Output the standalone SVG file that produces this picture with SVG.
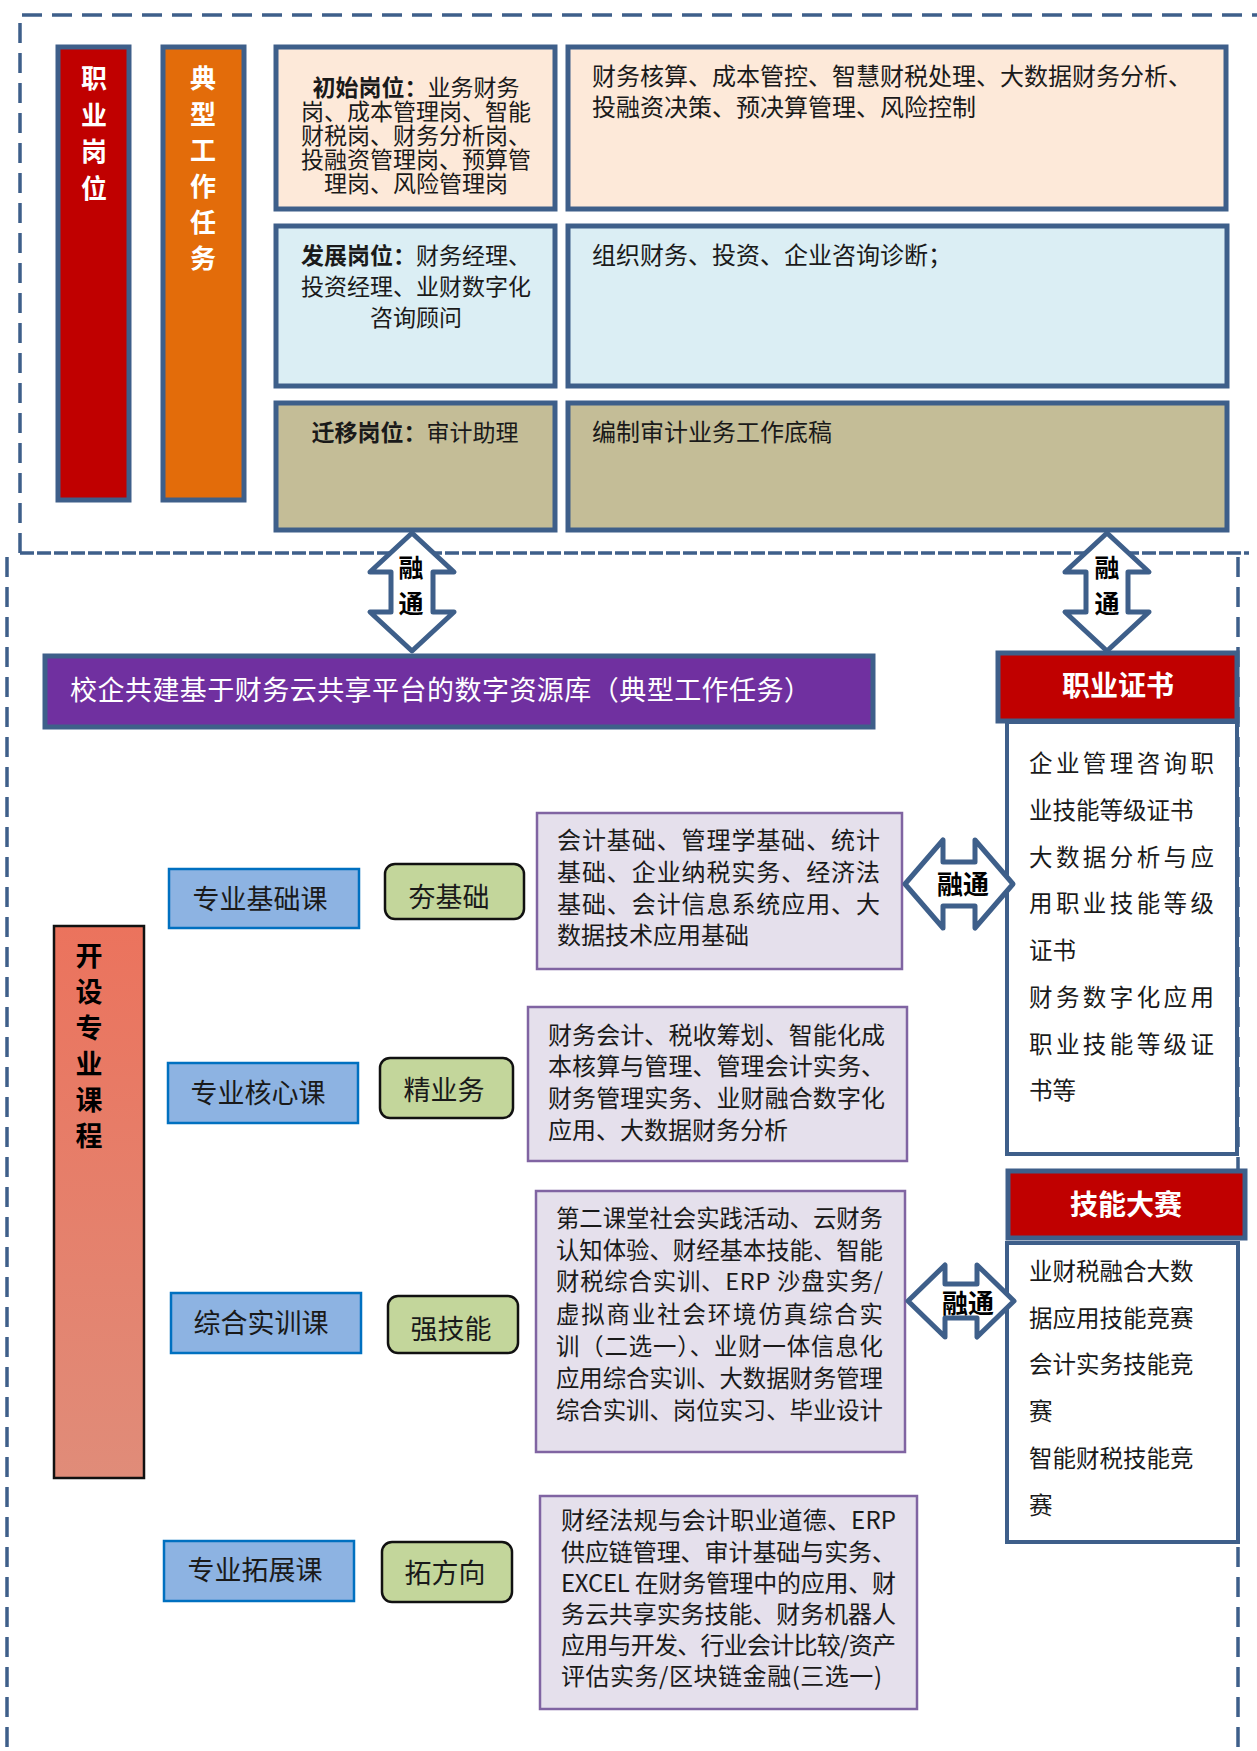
<svg xmlns="http://www.w3.org/2000/svg" width="1257" height="1751" viewBox="0 0 1257 1751">
<style>
text{font-family:"Noto Sans CJK SC","Noto Sans",sans-serif;fill:#1a1a1a}
.frame{fill:none;stroke:#3E5F8A;stroke-width:3.5;stroke-dasharray:20 10}
.thick{stroke:#3E5F8A;stroke-width:5}
.job{stroke:#3E5F8A;stroke-width:5}
.course{fill:#8DB3E2;stroke:#0070C0;stroke-width:2.5}
.goal{fill:#C3D69B;stroke:#111;stroke-width:2.5}
.lav{fill:#E5E0EC;stroke:#8064A2;stroke-width:2.5}
.arr{fill:#fff;stroke:#3E5F8A;stroke-width:5;stroke-linejoin:round}
.b{font-weight:bold}
.c{text-anchor:middle}
</style>
<defs>
<linearGradient id="sal" x1="0" y1="0" x2="0" y2="1">
<stop offset="0" stop-color="#EB735D"/>
<stop offset="1" stop-color="#E08C79"/>
</linearGradient>
</defs>

<g id="frames">
<path class="frame" d="M20,553 L20,15 L1257,15"/>
<line x1="20" y1="553" x2="1249" y2="553" stroke="#3E5F8A" stroke-width="3.5" stroke-dasharray="14 3"/>
<line class="frame" x1="7" y1="557" x2="7" y2="1751"/>
<line class="frame" x1="1238" y1="557" x2="1238" y2="1751"/>
</g>

<g id="zhiye-gangwei">
<rect class="thick" x="58" y="47" width="71" height="453" fill="#C00000"/>
<text class="b c" font-size="26" style="fill:#fff"><tspan x="94" y="88">职</tspan><tspan x="94" y="125">业</tspan><tspan x="94" y="161">岗</tspan><tspan x="94" y="198">位</tspan></text>
</g>
<g id="dianxing-renwu">
<rect class="thick" x="163" y="47" width="81" height="453" fill="#E36C0A"/>
<text class="b c" font-size="26" style="fill:#fff"><tspan x="203" y="88">典</tspan><tspan x="203" y="124">型</tspan><tspan x="203" y="160">工</tspan><tspan x="203" y="196">作</tspan><tspan x="203" y="232">任</tspan><tspan x="203" y="268">务</tspan></text>
</g>

<g id="chushi-gangwei">
<rect class="job" x="276" y="47" width="279" height="162" fill="#FDE9D9"/>
<text class="c" font-size="23"><tspan x="416" y="96"><tspan class="b">初始岗位：</tspan>业务财务</tspan><tspan x="416" y="120">岗、成本管理岗、智能</tspan><tspan x="416" y="144">财税岗、财务分析岗、</tspan><tspan x="416" y="168">投融资管理岗、预算管</tspan><tspan x="416" y="192">理岗、风险管理岗</tspan></text>
</g>
<g id="chushi-renwu">
<rect class="job" x="568" y="47" width="658" height="162" fill="#FDE9D9"/>
<text font-size="24"><tspan x="592" y="85" textLength="600">财务核算、成本管控、智慧财税处理、大数据财务分析、</tspan><tspan x="592" y="116">投融资决策、预决算管理、风险控制</tspan></text>
</g>

<g id="fazhan-gangwei">
<rect class="job" x="276" y="226" width="279" height="160" fill="#DBEEF4"/>
<text class="c" font-size="23"><tspan x="416" y="264"><tspan class="b">发展岗位：</tspan>财务经理、</tspan><tspan x="416" y="295">投资经理、业财数字化</tspan><tspan x="416" y="326">咨询顾问</tspan></text>
</g>
<g id="fazhan-renwu">
<rect class="job" x="568" y="226" width="659" height="160" fill="#DBEEF4"/>
<text font-size="24" x="592" y="264">组织财务、投资、企业咨询诊断；</text>
</g>

<g id="qianyi-gangwei">
<rect class="job" x="276" y="403" width="279" height="127" fill="#C4BD97"/>
<text class="c" font-size="23" x="415" y="441"><tspan class="b">迁移岗位：</tspan>审计助理</text>
</g>
<g id="qianyi-renwu">
<rect class="job" x="568" y="403" width="659" height="127" fill="#C4BD97"/>
<text font-size="24" x="592" y="441">编制审计业务工作底稿</text>
</g>

<g id="ziyuanku">
<rect class="thick" x="45" y="656" width="828" height="71" fill="#7030A0"/>
<text font-size="27" x="70" y="700" textLength="741" style="fill:#fff">校企共建基于财务云共享平台的数字资源库（典型工作任务）</text>
</g>

<g id="zhiye-zhengshu">
<rect class="thick" x="998" y="653" width="239" height="68" fill="#C00000"/>
<text class="b c" font-size="28" x="1118" y="696" style="fill:#fff">职业证书</text>
<rect x="1007" y="722" width="230" height="432" fill="#fff" stroke="#3E5F8A" stroke-width="4"/>
<text font-size="23.5"><tspan x="1029" y="772" textLength="185">企业管理咨询职</tspan><tspan x="1029" y="819">业技能等级证书</tspan><tspan x="1029" y="866" textLength="185">大数据分析与应</tspan><tspan x="1029" y="912" textLength="185">用职业技能等级</tspan><tspan x="1029" y="959">证书</tspan><tspan x="1029" y="1006" textLength="185">财务数字化应用</tspan><tspan x="1029" y="1053" textLength="185">职业技能等级证</tspan><tspan x="1029" y="1099">书等</tspan></text>
</g>

<g id="jineng-dasai">
<rect class="thick" x="1008" y="1171" width="237" height="67" fill="#C00000"/>
<text class="b c" font-size="28" x="1126" y="1215" style="fill:#fff">技能大赛</text>
<rect x="1007" y="1243" width="231" height="299" fill="#fff" stroke="#3E5F8A" stroke-width="4"/>
<text font-size="23.5"><tspan x="1029" y="1280">业财税融合大数</tspan><tspan x="1029" y="1327">据应用技能竞赛</tspan><tspan x="1029" y="1373">会计实务技能竞</tspan><tspan x="1029" y="1420">赛</tspan><tspan x="1029" y="1467">智能财税技能竞</tspan><tspan x="1029" y="1514">赛</tspan></text>
</g>

<g id="kaishe-kecheng">
<rect x="54" y="926" width="90" height="552" fill="url(#sal)" stroke="#111" stroke-width="2.5"/>
<text class="b c" font-size="27" style="fill:#000"><tspan x="89" y="966">开</tspan><tspan x="89" y="1002">设</tspan><tspan x="89" y="1038">专</tspan><tspan x="89" y="1074">业</tspan><tspan x="89" y="1110">课</tspan><tspan x="89" y="1146">程</tspan></text>
</g>

<g id="jichu-ke">
<rect class="course" x="169" y="869" width="190" height="59"/>
<text class="c" font-size="27" x="260" y="909">专业基础课</text>
</g>
<g id="hang-jichu">
<rect class="goal" x="385" y="864" width="139" height="55" rx="10"/>
<text class="c" font-size="27" x="449" y="907">夯基础</text>
</g>
<g id="jichu-neirong">
<rect class="lav" x="537" y="813" width="365" height="156"/>
<text font-size="24"><tspan x="557" y="849" textLength="323">会计基础、管理学基础、统计</tspan><tspan x="557" y="881" textLength="323">基础、企业纳税实务、经济法</tspan><tspan x="557" y="913" textLength="323">基础、会计信息系统应用、大</tspan><tspan x="557" y="944">数据技术应用基础</tspan></text>
</g>

<g id="hexin-ke">
<rect class="course" x="168" y="1063" width="190" height="60"/>
<text class="c" font-size="27" x="258" y="1103">专业核心课</text>
</g>
<g id="jing-yewu">
<rect class="goal" x="380" y="1058" width="133" height="60" rx="10"/>
<text class="c" font-size="27" x="444" y="1100">精业务</text>
</g>
<g id="hexin-neirong">
<rect class="lav" x="528" y="1007" width="379" height="154"/>
<text font-size="24"><tspan x="548" y="1044" textLength="337">财务会计、税收筹划、智能化成</tspan><tspan x="548" y="1075" textLength="337">本核算与管理、管理会计实务、</tspan><tspan x="548" y="1107" textLength="337">财务管理实务、业财融合数字化</tspan><tspan x="548" y="1139">应用、大数据财务分析</tspan></text>
</g>

<g id="shixun-ke">
<rect class="course" x="171" y="1293" width="190" height="60"/>
<text class="c" font-size="27" x="261" y="1333">综合实训课</text>
</g>
<g id="qiang-jineng">
<rect class="goal" x="388" y="1296" width="130" height="57" rx="10"/>
<text class="c" font-size="27" x="451" y="1339">强技能</text>
</g>
<g id="shixun-neirong">
<rect class="lav" x="536" y="1191" width="369" height="261"/>
<text font-size="23.4"><tspan x="556" y="1227" textLength="327">第二课堂社会实践活动、云财务</tspan><tspan x="556" y="1259" textLength="327">认知体验、财经基本技能、智能</tspan><tspan x="556" y="1290" textLength="327">财税综合实训、ERP 沙盘实务/</tspan><tspan x="556" y="1323" textLength="327">虚拟商业社会环境仿真综合实</tspan><tspan x="556" y="1355" textLength="327">训（二选一）、业财一体信息化</tspan><tspan x="556" y="1387" textLength="327">应用综合实训、大数据财务管理</tspan><tspan x="556" y="1419" textLength="327">综合实训、岗位实习、毕业设计</tspan></text>
</g>

<g id="tuozhan-ke">
<rect class="course" x="164" y="1541" width="190" height="60"/>
<text class="c" font-size="27" x="255" y="1580">专业拓展课</text>
</g>
<g id="tuo-fangxiang">
<rect class="goal" x="382" y="1542" width="130" height="60" rx="10"/>
<text class="c" font-size="27" x="445" y="1583">拓方向</text>
</g>
<g id="tuozhan-neirong">
<rect class="lav" x="540" y="1496" width="377" height="213"/>
<text font-size="24"><tspan x="561" y="1529" textLength="335">财经法规与会计职业道德、ERP</tspan><tspan x="561" y="1561" textLength="335">供应链管理、审计基础与实务、</tspan><tspan x="561" y="1592" textLength="335">EXCEL 在财务管理中的应用、财</tspan><tspan x="561" y="1623" textLength="335">务云共享实务技能、财务机器人</tspan><tspan x="561" y="1654" textLength="335">应用与开发、行业会计比较/资产</tspan><tspan x="561" y="1685" textLength="321">评估实务/区块链金融(三选一)</tspan></text>
</g>

<g id="connectors">
<path class="arr" d="M412,533 L454,572 L433,572 L433,612 L454,612 L412,651 L370,612 L391,612 L391,572 L370,572 Z"/>
<text class="b c" font-size="25" style="fill:#000"><tspan x="411" y="577">融</tspan><tspan x="411" y="613">通</tspan></text>
<path class="arr" d="M1107,533 L1149,572 L1128,572 L1128,612 L1149,612 L1107,651 L1065,612 L1086,612 L1086,572 L1065,572 Z"/>
<text class="b c" font-size="25" style="fill:#000"><tspan x="1107" y="577">融</tspan><tspan x="1107" y="613">通</tspan></text>
<path class="arr" d="M905,884 L943,840 L943,862 L975,862 L975,840 L1013,884 L975,928 L975,906 L943,906 L943,928 Z"/>
<text class="b c" font-size="26" x="963" y="894" style="fill:#000">融通</text>
<path class="arr" d="M908,1301 L945,1265 L945,1284 L977,1284 L977,1265 L1014,1301 L977,1337 L977,1318 L945,1318 L945,1337 Z"/>
<text class="b c" font-size="26" x="968" y="1313" style="fill:#000">融通</text>
</g>
</svg>
